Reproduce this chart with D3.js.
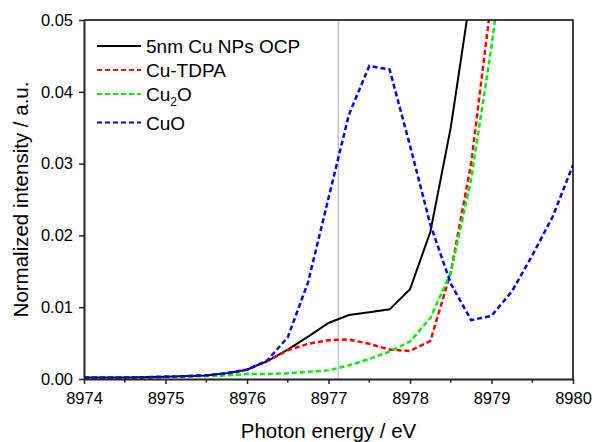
<!DOCTYPE html>
<html lang="en">
<head>
    <meta charset="UTF-8">
    <title>Cu K-edge XANES</title>
    <script src="https://cdnjs.cloudflare.com/ajax/libs/d3/7.8.5/d3.min.js"></script>
    <style>
        body { margin: 0; background: #ffffff; }
        text { font-family: Arial, "Liberation Sans", sans-serif; fill: #000; }
    </style>
</head>
<body>
    <script>
        // data
        var energy = [8974, 8974.5, 8975, 8975.5, 8975.75, 8976, 8976.25, 8976.5, 8976.75, 8977,
                      8977.25, 8977.5, 8977.75, 8978, 8978.25, 8978.5, 8978.75, 8979, 8979.25,
                      8979.5, 8979.75, 8980];
        var ocp   = [0.0002, 0.0002, 0.0003, 0.0005, 0.0008, 0.0013, 0.0025, 0.0041, 0.0059, 0.0078,
                     0.0089, 0.0093, 0.0097, 0.0125, 0.0205, 0.0350, 0.0540, null, null, null, null, null];
        var tdpa  = [0.0002, 0.0002, 0.0003, 0.0005, 0.0008, 0.0013, 0.0025, 0.0040, 0.0049, 0.0054,
                     0.0055, 0.0049, 0.0041, 0.0039, 0.0053, 0.0148, 0.0300, 0.0530, null, null, null, null];
        var cu2o  = [0.0002, 0.0002, 0.0003, 0.0004, 0.0005, 0.0007, 0.0007, 0.0008, 0.0010, 0.0012,
                     0.0019, 0.0028, 0.0038, 0.0052, 0.0085, 0.0148, 0.0278, 0.0463, 0.0680, null, null, null];
        var cuo   = [0.0002, 0.0002, 0.0003, 0.0005, 0.0008, 0.0013, 0.0026, 0.0058, 0.0135, 0.0252,
                     0.0368, 0.0436, 0.0431, 0.0325, 0.0215, 0.0133, 0.0082, 0.0088, 0.0122, 0.0172,
                     0.0226, 0.0298];
        var seriesNames = ["5nm Cu NPs OCP", "Cu-TDPA", "Cu2O", "CuO"];
        var seriesColors = ["#000000", "#ff0000", "#00ee00", "#0000ff"];
        var xTicks = [8974, 8975, 8976, 8977, 8978, 8979, 8980];
        var xMinorTicks = [8974.5, 8975.5, 8976.5, 8977.5, 8978.5, 8979.5];
        var yTicks = [0, 0.01, 0.02, 0.03, 0.04, 0.05];
        var markerEnergy = 8977.12;

        var allSeries = [ocp, tdpa, cu2o, cuo];

        var svg = d3.select("body")
            .append("svg")
            .attr("width", 593)
            .attr("height", 442);

        // plot box edges (not "top" - that's window.top)
        var pLeft = 84, pRight = 573, pTop = 20, pBottom = 379;

        var xScale = d3.scaleLinear().domain([8974, 8980]).range([pLeft, pRight]);
        var yScale = d3.scaleLinear().domain([0, 0.05]).range([pBottom, pTop]);

        svg.append("clipPath").attr("id", "plotclip")
            .append("rect")
            .attr("x", pLeft).attr("y", pTop)
            .attr("width", pRight - pLeft).attr("height", pBottom - pTop);

        // grey marker line
        svg.append("line")
            .attr("x1", xScale(markerEnergy)).attr("x2", xScale(markerEnergy))
            .attr("y1", pTop).attr("y2", pBottom)
            .attr("stroke", "#c8c8c8")
            .attr("stroke-width", 1.5);

        var line = d3.line()
            .defined(function(d){ return d[1] !== null; })
            .x(function(d){ return xScale(d[0]); })
            .y(function(d){ return yScale(d[1]); });

        var plot = svg.append("g").attr("clip-path", "url(#plotclip)");
        [0, 1, 2, 3].forEach(function(i){
            var pts = energy.map(function(e, k){ return [e, allSeries[i][k]]; });
            plot.append("path")
                .attr("d", line(pts))
                .attr("fill", "none")
                .attr("stroke", seriesColors[i])
                .attr("stroke-width", i === 0 ? 2 : 2.5)
                .attr("stroke-dasharray", i === 0 ? null : "5,3");
        });

        // frame top and right
        svg.append("path")
            .attr("d", "M" + pLeft + "," + pTop + "H" + pRight + "V" + pBottom)
            .attr("fill", "none")
            .attr("stroke", "#000")
            .attr("stroke-width", 1.5);

        // bottom axis
        var xAxis = d3.axisBottom(xScale)
            .tickValues(xTicks)
            .tickFormat(d3.format("d"))
            .tickSizeInner(5)
            .tickSizeOuter(0)
            .tickPadding(8);
        var gx = svg.append("g")
            .attr("transform", "translate(0," + pBottom + ")")
            .call(xAxis);
        gx.selectAll("text").style("font-size", "16.5px").attr("fill", "#000");
        gx.select(".domain").attr("stroke", "#222").attr("stroke-width", 2);
        gx.selectAll(".tick line").attr("stroke", "#222").attr("stroke-width", 1.5);
        gx.selectAll(".minor")
            .data(xMinorTicks)
            .enter()
            .append("line")
            .attr("class", "minor")
            .attr("x1", function(d){ return xScale(d); })
            .attr("x2", function(d){ return xScale(d); })
            .attr("y1", 0).attr("y2", 3.5)
            .attr("stroke", "#222")
            .attr("stroke-width", 1.5);

        // left axis
        var yAxis = d3.axisLeft(yScale)
            .tickValues(yTicks)
            .tickFormat(d3.format(".2f"))
            .tickSizeInner(5)
            .tickSizeOuter(0)
            .tickPadding(6);
        var gy = svg.append("g")
            .attr("transform", "translate(" + pLeft + ",0)")
            .call(yAxis);
        gy.selectAll("text").style("font-size", "16.5px").attr("fill", "#000");
        gy.select(".domain").attr("stroke", "#222").attr("stroke-width", 2);
        gy.selectAll(".tick line").attr("stroke", "#222").attr("stroke-width", 1.5);

        // axis titles
        svg.append("text")
            .attr("x", (pLeft + pRight) / 2)
            .attr("y", 438)
            .attr("text-anchor", "middle")
            .style("font-size", "20.5px")
            .text("Photon energy / eV");
        svg.append("text")
            .attr("transform", "translate(28," + ((pTop + pBottom) / 2) + ") rotate(-90)")
            .attr("text-anchor", "middle")
            .style("font-size", "20.5px")
            .text("Normalized intensity / a.u.");

        // legend
        var legendY = [46, 70, 94, 122.5];
        seriesNames.forEach(function(name, i){
            svg.append("line")
                .attr("x1", 97).attr("x2", 141)
                .attr("y1", legendY[i]).attr("y2", legendY[i])
                .attr("stroke", seriesColors[i])
                .attr("stroke-width", 2)
                .attr("stroke-dasharray", i === 0 ? null : "5,3");
            var t = svg.append("text")
                .attr("x", 146)
                .attr("y", legendY[i] + 7)
                .style("font-size", "19px");
            if (name === "Cu2O") {
                t.append("tspan").text("Cu");
                t.append("tspan").attr("dy", 5).style("font-size", "12px").text("2");
                t.append("tspan").attr("dy", -5).text("O");
            } else {
                t.text(name);
            }
        });
    </script>
</body>
</html>
